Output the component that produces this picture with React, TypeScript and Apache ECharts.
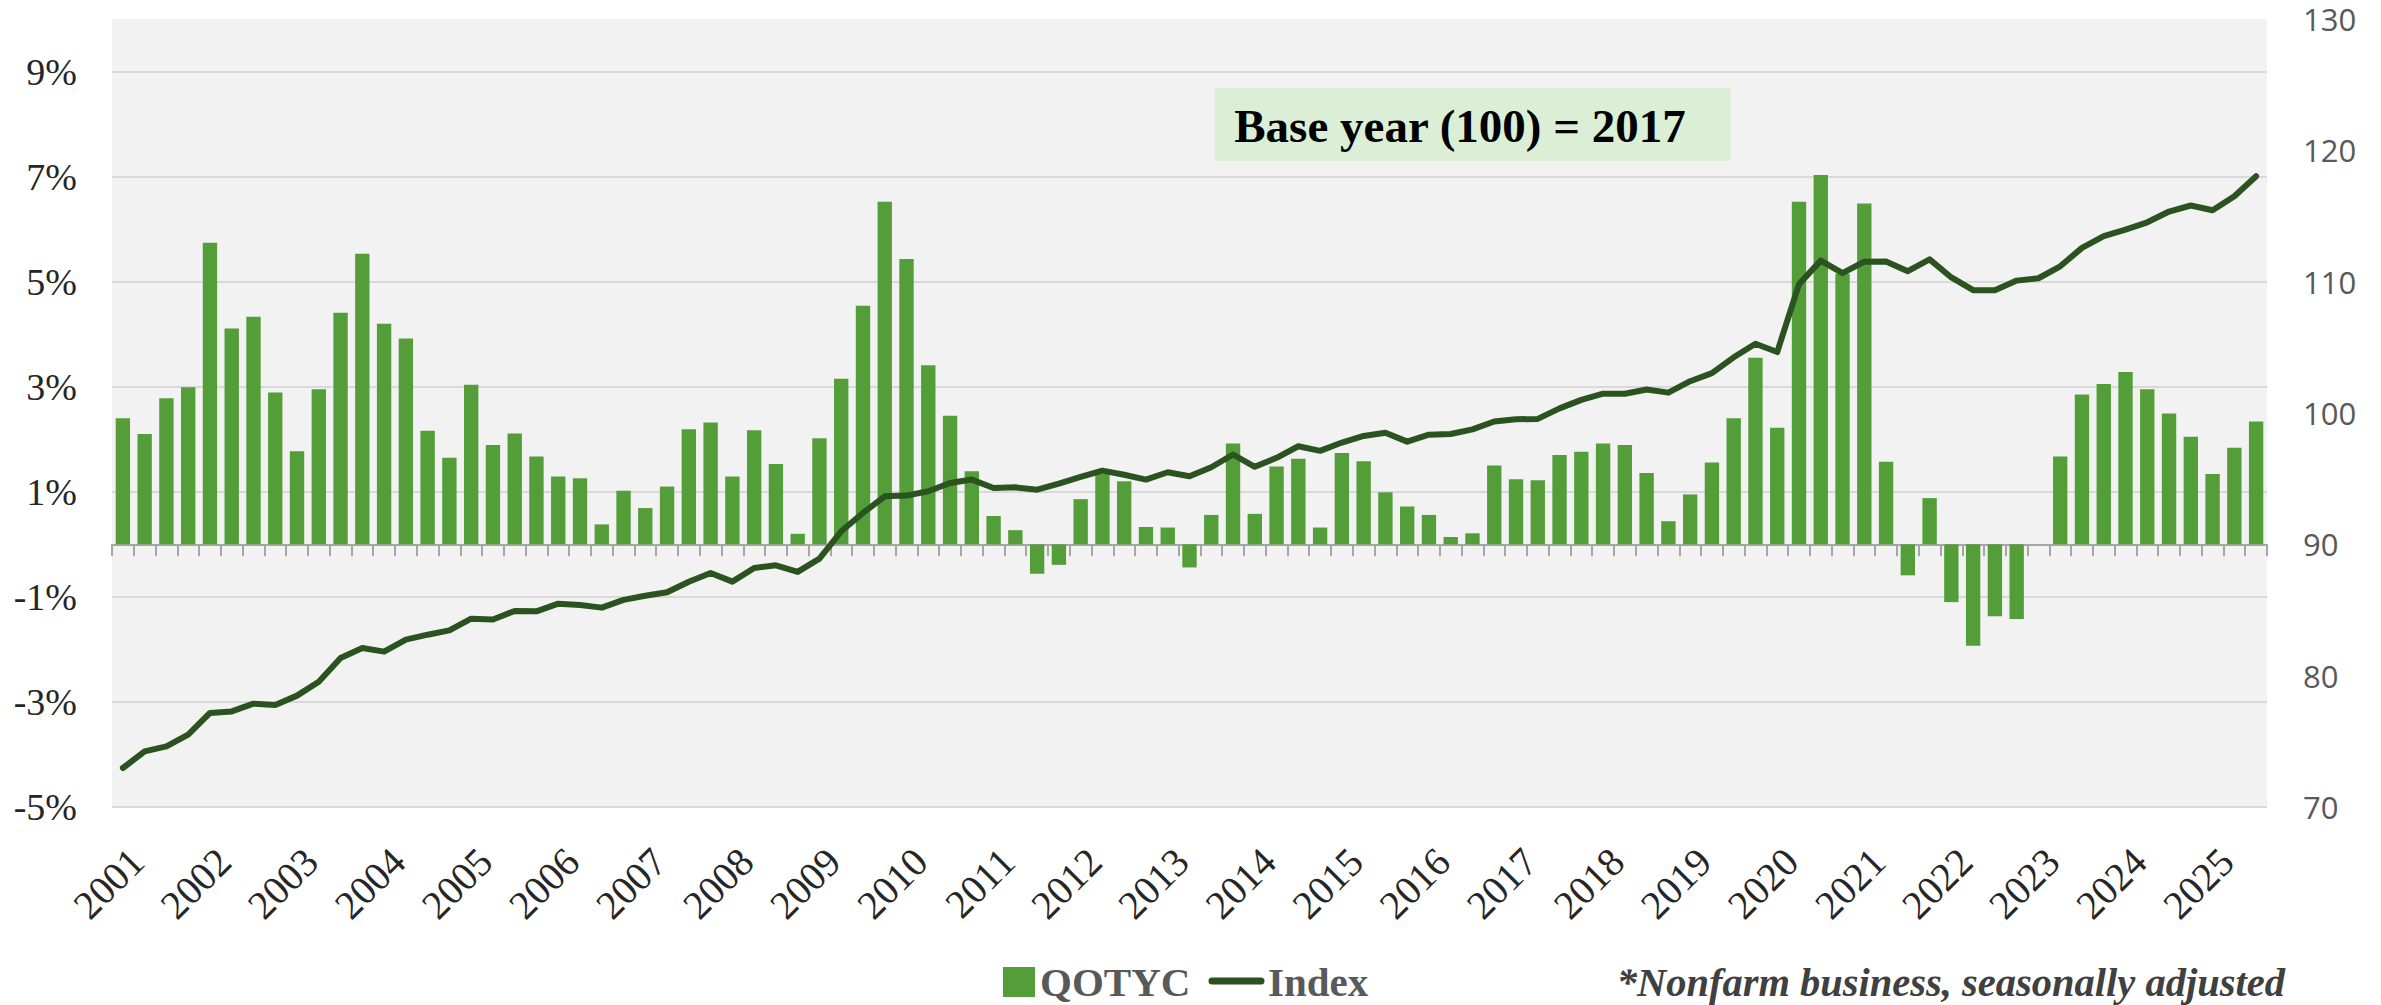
import React, { useEffect, useRef } from 'react';
import * as echarts from 'echarts';

const YEARS = [2001, 2002, 2003, 2004, 2005, 2006, 2007, 2008, 2009, 2010, 2011, 2012, 2013, 2014, 2015, 2016, 2017, 2018, 2019, 2020, 2021, 2022, 2023, 2024, 2025];
const QUARTERS = ['Q1', 'Q2', 'Q3', 'Q4'];
const CATEGORIES = YEARS.flatMap((y) => QUARTERS.map((q) => `${y} ${q}`)).slice(0, 99);

// Year-over-year % change (bars, left axis)
const QOTYC = [
  2.40, 2.10, 2.78, 2.99, 5.74, 4.11, 4.33, 2.89, 1.77, 2.95,
  4.41, 5.53, 4.20, 3.92, 2.16, 1.65, 3.04, 1.89, 2.11, 1.67,
  1.29, 1.26, 0.38, 1.02, 0.69, 1.10, 2.19, 2.32, 1.29, 2.17,
  1.53, 0.20, 2.02, 3.15, 4.54, 6.52, 5.43, 3.41, 2.45, 1.39,
  0.54, 0.27, -0.56, -0.39, 0.86, 1.34, 1.20, 0.33, 0.32, -0.44,
  0.56, 1.92, 0.58, 1.48, 1.63, 0.32, 1.74, 1.58, 0.99, 0.72,
  0.56, 0.14, 0.21, 1.50, 1.24, 1.22, 1.70, 1.76, 1.92, 1.89,
  1.36, 0.44, 0.95, 1.56, 2.40, 3.55, 2.22, 6.52, 7.03, 5.15,
  6.49, 1.57, -0.59, 0.88, -1.10, -1.93, -1.37, -1.42, 0.00, 1.67,
  2.85, 3.05, 3.28, 2.95, 2.49, 2.05, 1.34, 1.84, 2.34,
];

// Productivity index, 2017 = 100 (line, right axis)
const INDEX = [
  72.97, 74.23, 74.62, 75.51, 77.16, 77.28, 77.87, 77.77, 78.48, 79.54,
  81.35, 82.11, 81.83, 82.74, 83.12, 83.45, 84.34, 84.27, 84.93, 84.90,
  85.48, 85.38, 85.18, 85.77, 86.09, 86.35, 87.15, 87.82, 87.16, 88.20,
  88.40, 87.90, 88.91, 90.99, 92.39, 93.66, 93.71, 94.04, 94.67, 94.93,
  94.29, 94.34, 94.16, 94.62, 95.13, 95.61, 95.30, 94.93, 95.49, 95.18,
  95.87, 96.84, 95.90, 96.59, 97.47, 97.12, 97.75, 98.25, 98.50, 97.82,
  98.35, 98.40, 98.75, 99.35, 99.52, 99.55, 100.35, 101.00, 101.47, 101.47,
  101.79, 101.55, 102.42, 103.04, 104.24, 105.27, 104.64, 109.81, 111.60, 110.65,
  111.52, 111.54, 110.80, 111.70, 110.32, 109.35, 109.35, 110.08, 110.26, 111.17,
  112.57, 113.46, 113.97, 114.52, 115.34, 115.80, 115.44, 116.51, 118.03,
];

const BAR_COLOR = '#549e39';
const LINE_COLOR = '#2b5320';
const SERIF = '"Liberation Serif", "Times New Roman", serif';

export default function App() {
  const ref = useRef<HTMLDivElement>(null);

  useEffect(() => {
    const chart = echarts.init(ref.current as HTMLDivElement, null, { renderer: 'svg' });
    chart.setOption({
      animation: false,
      backgroundColor: '#ffffff',
      grid: {
        left: 112,
        top: 19,
        width: 2155,
        height: 788,
        show: true,
        backgroundColor: '#f2f2f2',
        borderWidth: 0,
        containLabel: false,
        outerBoundsMode: 'none',
      },
      xAxis: [
        {
          type: 'category',
          data: CATEGORIES,
          position: 'bottom',
          boundaryGap: true,
          axisLine: { show: true, onZero: true, lineStyle: { color: '#a6a6a6', width: 2 } },
          axisTick: { show: true, interval: 0, length: 12, alignWithLabel: false, lineStyle: { color: '#a6a6a6', width: 2 } },
          axisLabel: { show: false },
          splitLine: { show: false },
        },
        {
          type: 'category',
          data: CATEGORIES,
          position: 'bottom',
          boundaryGap: true,
          axisLine: { show: false, onZero: false },
          axisTick: { show: false },
          splitLine: { show: false },
          axisLabel: {
            interval: 3,
            rotate: 45,
            margin: 34,
            align: 'right',
            verticalAlign: 'top',
            fontFamily: SERIF,
            fontSize: 40,
            color: '#262626',
            formatter: (v: string) => v.slice(0, 4),
          },
        },
      ],
      yAxis: [
        {
          type: 'value',
          position: 'left',
          min: -5,
          max: 10,
          interval: 2,
          axisLine: { show: false },
          axisTick: { show: false },
          axisLabel: {
            margin: 35,
            fontFamily: SERIF,
            fontSize: 38,
            color: '#262626',
            showMaxLabel: false,
            formatter: (v: number) => (v === 10 ? '' : `${v}%`),
          },
          splitLine: { show: true, showMaxLine: false, lineStyle: { color: '#d9d9d9', width: 2 } },
        },
        {
          type: 'value',
          position: 'right',
          min: 70,
          max: 130,
          interval: 10,
          axisLine: { show: false },
          axisTick: { show: false },
          axisLabel: {
            margin: 36,
            fontFamily: '"Open Sans", sans-serif',
            fontSize: 31,
            lineHeight: 31,
            color: '#595959',
          },
          splitLine: { show: false },
        },
      ],
      series: [
        {
          type: 'bar',
          name: 'QOTYC',
          data: QOTYC,
          xAxisIndex: 0,
          yAxisIndex: 0,
          barCategoryGap: '34%',
          itemStyle: { color: BAR_COLOR },
          z: 2,
        },
        {
          type: 'line',
          name: 'Index',
          data: INDEX,
          xAxisIndex: 0,
          yAxisIndex: 1,
          symbol: 'none',
          showSymbol: false,
          lineStyle: { color: LINE_COLOR, width: 6, cap: 'round', join: 'round' },
          itemStyle: { color: LINE_COLOR },
          z: 3,
        },
      ],
      graphic: [
        {
          type: 'rect',
          shape: { x: 1215, y: 88, width: 516, height: 73 },
          style: { fill: '#daefd6' },
          z: 10,
        },
        {
          type: 'text',
          x: 1460,
          y: 126,
          z: 11,
          style: {
            text: 'Base year (100) = 2017',
            fontFamily: SERIF,
            fontSize: 47,
            fontWeight: 'bold',
            fill: '#000000',
            align: 'center',
            verticalAlign: 'middle',
          },
        },
        {
          type: 'rect',
          shape: { x: 1003, y: 967, width: 32, height: 30 },
          style: { fill: BAR_COLOR },
        },
        {
          type: 'text',
          x: 1040,
          y: 982,
          style: {
            text: 'QOTYC',
            fontFamily: SERIF,
            fontSize: 41,
            fontWeight: 'bold',
            fill: '#595959',
            align: 'left',
            verticalAlign: 'middle',
          },
        },
        {
          type: 'line',
          shape: { x1: 1212, y1: 981, x2: 1261, y2: 981 },
          style: { stroke: LINE_COLOR, lineWidth: 7, lineCap: 'round' },
        },
        {
          type: 'text',
          x: 1268,
          y: 982,
          style: {
            text: 'Index',
            fontFamily: SERIF,
            fontSize: 41,
            fontWeight: 'bold',
            fill: '#595959',
            align: 'left',
            verticalAlign: 'middle',
          },
        },
        {
          type: 'text',
          x: 2285,
          y: 982,
          style: {
            text: '*Nonfarm business, seasonally adjusted',
            fontFamily: SERIF,
            fontSize: 40.5,
            fontWeight: 'bold',
            fontStyle: 'italic',
            fill: '#404040',
            align: 'right',
            verticalAlign: 'middle',
          },
        },
      ],
    });
    return () => chart.dispose();
  }, []);

  return (
    <div
      ref={ref}
      style={{ position: 'fixed', left: 0, top: 0, width: 2381, height: 1005, background: '#ffffff' }}
    />
  );
}
